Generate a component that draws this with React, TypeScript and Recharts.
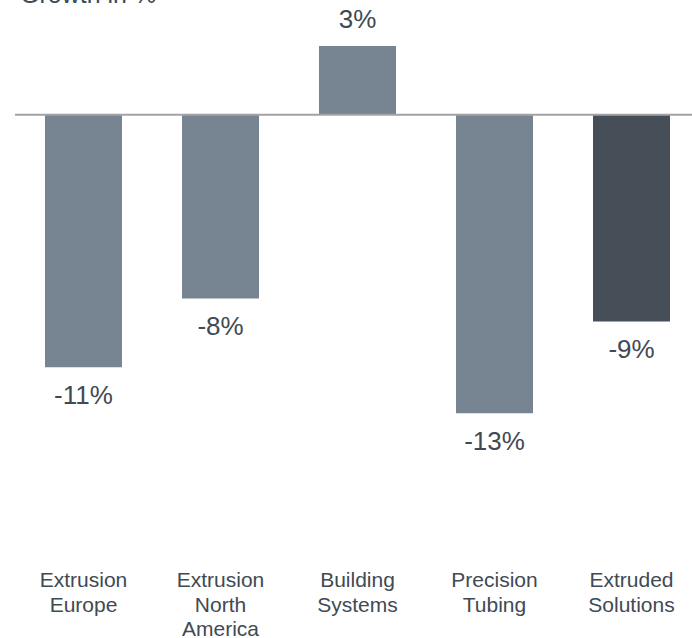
import React from 'react';
import { BarChart, Bar, XAxis, YAxis, Cell, LabelList, ReferenceLine } from 'recharts';

const categories = [
  'Extrusion\nEurope',
  'Extrusion\nNorth\nAmerica',
  'Building\nSystems',
  'Precision\nTubing',
  'Extruded\nSolutions',
];
const growth = [-11, -8, 3, -13, -9];
const barColors = ['#778592', '#778592', '#778592', '#778592', '#464e57'];

const data = categories.map((name, i) => ({ name, value: growth[i] }));

const FONT = '"Liberation Sans", Arial, sans-serif';
const TEXT = '#414a53';

const CategoryTick = (props: any) => {
  const { x, y, payload } = props;
  const lines = String(payload.value).split('\n');
  return (
    <text x={x} y={y} textAnchor="middle" fill={TEXT} fontSize={21} fontFamily={FONT}>
      {lines.map((l, i) => (
        <tspan key={i} x={x} dy={i === 0 ? 36 : 24.5}>
          {l}
        </tspan>
      ))}
    </text>
  );
};

const ValueLabel = (props: any) => {
  const { x, y, width, height, value } = props;
  const top = Math.min(y, y + height);
  const bottom = Math.max(y, y + height);
  const cx = x + width / 2;
  const ty = value >= 0 ? top - 18 : bottom + 37;
  return (
    <text x={cx} y={ty} textAnchor="middle" fill={TEXT} fontSize={26} fontFamily={FONT}>
      {value}%
    </text>
  );
};

export default function App() {
  return (
    <div style={{ position: 'absolute', left: 0, top: 0, width: 692, height: 638, overflow: 'hidden', background: '#fff' }}>
      <BarChart
        width={700}
        height={638}
        data={data}
        margin={{ top: 0, right: 0, bottom: 0, left: 15 }}
      >
        <XAxis
          dataKey="name"
          axisLine={false}
          tickLine={false}
          tickSize={0}
          tickMargin={0}
          height={87}
          interval={0}
          tick={<CategoryTick />}
        />
        <YAxis hide domain={[-19, 5]} />
        <Bar dataKey="value" barSize={77} isAnimationActive={false}>
          {data.map((d, i) => (
            <Cell key={d.name} fill={barColors[i]} />
          ))}
          <LabelList dataKey="value" content={<ValueLabel />} />
        </Bar>
        <ReferenceLine y={0} stroke="#a3a3a3" strokeWidth={2} />
      </BarChart>
      <svg width={692} height={20} style={{ position: 'absolute', left: 0, top: 0 }}>
        <text x={20} y={3} fill={TEXT} fontSize={25} fontFamily={FONT}>
          Growth in %
        </text>
      </svg>
    </div>
  );
}
